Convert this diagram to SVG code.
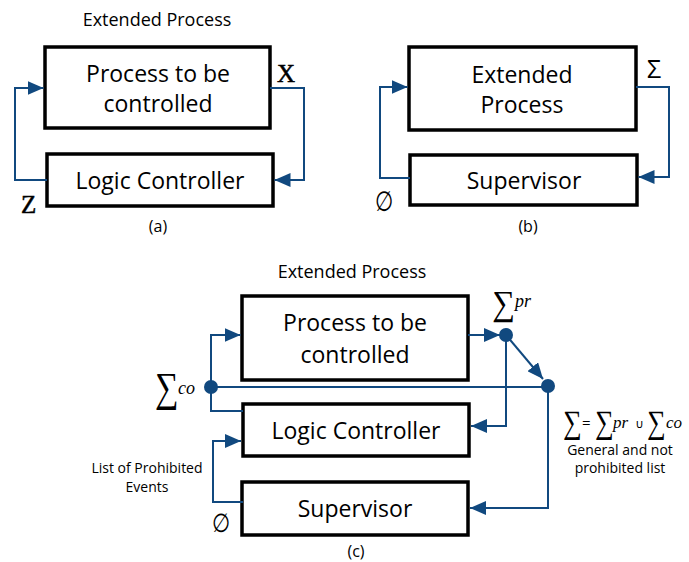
<svg xmlns="http://www.w3.org/2000/svg" width="689" height="562" viewBox="0 0 689 562">
<style>
.box{fill:#fff;stroke:#000;stroke-width:3.5}
.lbl{font-family:"Open Sans","Liberation Sans",sans-serif;font-size:23px;fill:#000;text-anchor:middle}
.ttl{font-family:"Open Sans","Liberation Sans",sans-serif;font-size:18px;fill:#000;text-anchor:middle}
.cap{font-family:"Open Sans","Liberation Sans",sans-serif;font-size:16px;fill:#000;text-anchor:middle}
.sm{font-family:"Open Sans","Liberation Sans",sans-serif;font-size:14px;fill:#000;text-anchor:middle}
.math{font-family:"Liberation Serif","DejaVu Serif",serif;fill:#000}
.it{font-family:"Liberation Serif","DejaVu Serif",serif;font-style:italic;fill:#000}
.con{fill:none;stroke:#11497f;stroke-width:2}
.dot{fill:#11497f}
</style>
<defs>
<marker id="ah" markerUnits="userSpaceOnUse" markerWidth="16" markerHeight="14" refX="16" refY="7" orient="auto">
<path d="M0,0 L16,7 L0,14 z" fill="#11497f"/>
</marker>
</defs>

<!-- (a) -->
<text class="ttl" x="157" y="26">Extended Process</text>
<g id="proc_a">
<rect class="box" x="45" y="47" width="225" height="81"/>
<text class="lbl" x="158" y="82">Process to be</text>
<text class="lbl" x="158" y="112">controlled</text>
</g>
<g id="lc_a">
<rect class="box" x="47" y="154" width="226" height="52"/>
<text class="lbl" x="160" y="189">Logic Controller</text>
</g>
<text class="math" x="277" y="82" font-size="25" stroke="#000" stroke-width="0.5">X</text>
<text class="math" x="21" y="213" font-size="25" stroke="#000" stroke-width="0.5">Z</text>
<text class="cap" x="158" y="232">(a)</text>

<!-- (b) -->
<g id="ep_b">
<rect class="box" x="409" y="47" width="227" height="83"/>
<text class="lbl" x="522" y="83">Extended</text>
<text class="lbl" x="522" y="113">Process</text>
</g>
<g id="sup_b">
<rect class="box" x="410" y="155" width="227" height="50"/>
<text class="lbl" x="524" y="189">Supervisor</text>
</g>
<text x="647" y="78" font-family="Open Sans, Liberation Sans, sans-serif" font-size="25" fill="#000">Σ</text>
<text transform="translate(375,211) scale(0.75,1)" font-family="DejaVu Sans, sans-serif" font-size="28" fill="#000">∅</text>
<text class="cap" x="528" y="232">(b)</text>

<!-- (c) -->
<text class="ttl" x="352" y="278">Extended Process</text>
<g id="proc_c">
<rect class="box" x="242" y="296" width="226" height="84"/>
<text class="lbl" x="355" y="331">Process to be</text>
<text class="lbl" x="355" y="363">controlled</text>
</g>
<g id="lc_c">
<rect class="box" x="243" y="404" width="226" height="52"/>
<text class="lbl" x="356" y="439">Logic Controller</text>
</g>
<g id="sup_c">
<rect class="box" x="242" y="482" width="226" height="53"/>
<text class="lbl" x="355" y="517">Supervisor</text>
</g>
<text class="sm" x="147" y="473">List of Prohibited</text>
<text class="sm" x="147" y="492">Events</text>
<text transform="translate(212,532) scale(0.8,1)" font-family="DejaVu Sans, sans-serif" font-size="26" fill="#000">∅</text>
<text class="cap" x="356" y="557">(c)</text>

<!-- sigma labels -->
<text class="math" transform="translate(155,401) scale(1,1.25)" font-size="33">∑</text>
<text class="it" x="178" y="394" font-size="18">co</text>
<text class="math" transform="translate(492,315) scale(1,1.1)" font-size="32">∑</text>
<text class="it" x="515" y="307" font-size="18">pr</text>

<g id="formula">
<text class="math" transform="translate(563,433) scale(1,1.25)" font-size="26">∑</text>
<text x="582" y="428" font-family="Open Sans, Liberation Sans, sans-serif" font-size="15" fill="#000">=</text>
<text class="math" transform="translate(595,433) scale(1,1.25)" font-size="26">∑</text>
<text class="it" x="613" y="428" font-size="17">pr</text>
<text x="635" y="428" font-family="DejaVu Sans, sans-serif" font-size="12" fill="#000">∪</text>
<text class="math" transform="translate(647,433) scale(1,1.25)" font-size="26">∑</text>
<text class="it" x="666" y="428" font-size="17">co</text>
<text class="sm" x="620" y="455">General and not</text>
<text class="sm" x="620" y="473">prohibited list</text>
</g>

<!-- connectors -->
<g id="connectors">
<path class="con" d="M270,88 H304 V180 H274.5" marker-end="url(#ah)"/>
<path class="con" d="M47,180 H15 V88 H43.5" marker-end="url(#ah)"/>
<path class="con" d="M636,87 H669 V177 H638.5" marker-end="url(#ah)"/>
<path class="con" d="M410,178 H380 V87 H407.5" marker-end="url(#ah)"/>

<path class="con" d="M211,387 V335 H240.5" marker-end="url(#ah)"/>
<path class="con" d="M211,387 V411 H243"/>
<path class="con" d="M211,387 H548"/>
<path class="con" d="M468,335 H500" marker-end="url(#ah)"/>
<path class="con" d="M506,335 V426 H471" marker-end="url(#ah)"/>
<path class="con" d="M506,335 L543,379" marker-end="url(#ah)"/>
<path class="con" d="M548,386 V508 H470" marker-end="url(#ah)"/>
<path class="con" d="M243,502 H213 V441 H241" marker-end="url(#ah)"/>
<circle class="dot" cx="211" cy="387" r="7"/>
<circle class="dot" cx="506" cy="335" r="7"/>
<circle class="dot" cx="548" cy="386" r="7"/>
</g>
</svg>
